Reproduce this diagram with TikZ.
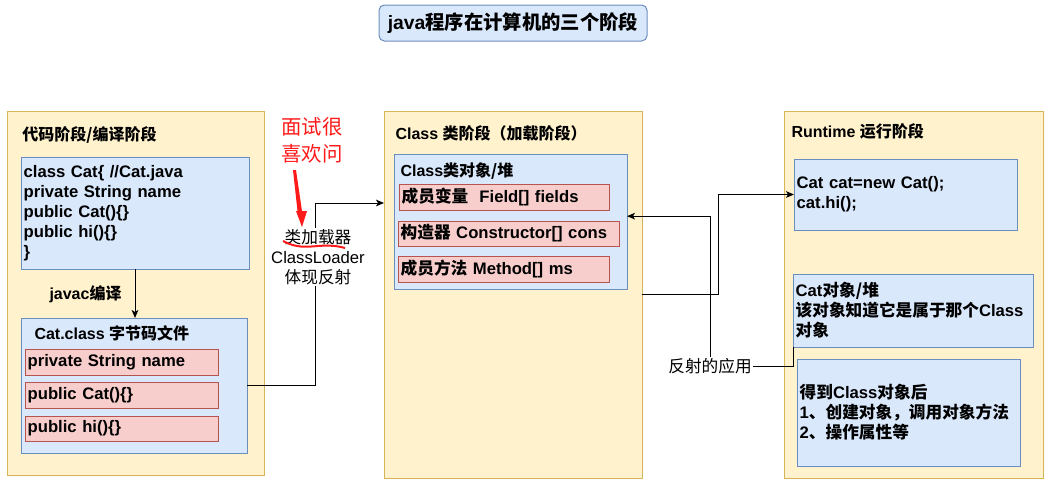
\documentclass[tikz,border=0pt]{standalone}
\usepackage{fontspec}
\setmainfont{Liberation Sans}
\newfontfamily\cjk{Noto Sans CJK SC}
\usetikzlibrary{arrows.meta}
\newcommand{\zh}[1]{{\cjk #1}}
\definecolor{stagefill}{HTML}{FFF2CC}
\definecolor{stagedraw}{HTML}{D6B656}
\definecolor{bluefill}{HTML}{DAE8FC}
\definecolor{bluedraw}{HTML}{6C8EBF}
\definecolor{pinkfill}{HTML}{F8CECC}
\definecolor{pinkdraw}{HTML}{B85450}
\definecolor{notered}{HTML}{FF1A1A}
\tikzset{every picture/.style={line width=0.75pt},
  stage/.style={draw=stagedraw, fill=stagefill, anchor=north west, inner sep=0pt, outer sep=0pt},
  bluebox/.style={draw=bluedraw, fill=bluefill, anchor=north west, inner xsep=2pt, inner ysep=0pt, outer sep=0pt, align=left, font=\bfseries\fontsize{12.5}{15}\selectfont},
  pinkbox/.style={bluebox, draw=pinkdraw, fill=pinkfill},
  heading/.style={anchor=west, inner sep=0pt, font=\bfseries\fontsize{12}{14}\selectfont},
  plain/.style={inner sep=0pt, outer sep=1pt, align=center, font=\fontsize{12.5}{15}\selectfont},
  conn/.style={-{Stealth[length=6pt,width=5pt,inset=1.5pt]}},
}
\begin{document}
\begin{tikzpicture}[x=0.75pt,y=0.75pt,yscale=-1,xscale=1]
	\useasboundingbox (0,0) rectangle (1051,487);
	%Title
	\node [draw=bluedraw, fill=bluefill, rounded corners=4pt, minimum width=201pt, minimum height=27pt, font=\bfseries\fontsize{14.5}{17}\selectfont] (title) at (513,23) {java\zh{程序在计算机的三个阶段}};
	%Code stage
	\node [stage, minimum width=192.75pt, minimum height=273pt] (codestage) at (7,111) {};
	\node [heading] (codehead) at (22,135) {\zh{代码阶段/编译阶段}};
	\node [bluebox, text width=167pt, minimum height=84pt] (code) at (21,157) {class Cat\{ //Cat.java\\private String name\\public Cat()\{\}\\public hi()\{\}\\\}};
	\node [bluebox, minimum width=169.5pt, minimum height=101.25pt] (catcls) at (21,318) {};
	\node [heading] (catclshead) at (34,333) {Cat.class \zh{字节码文件}};
	\node [pinkbox, text width=140.75pt, minimum height=19.5pt] (bytename) at (25,349) {private String name};
	\node [pinkbox, text width=140.75pt, minimum height=19.5pt] (bytecat) at (25,382) {public Cat()\{\}};
	\node [pinkbox, text width=140.75pt, minimum height=18.75pt] (bytehi) at (25,416) {public hi()\{\}};
	\node [heading] (javac) at (49,294) {javac\zh{编译}};
	\draw [conn] (code.south) -- (code.south |- catcls.north);
	%Class stage
	\node [stage, minimum width=193.5pt, minimum height=275.25pt] (clsstage) at (384,111) {};
	\node [heading] (clshead) at (395,133) {Class \zh{类阶段（加载阶段）}};
	\node [bluebox, minimum width=174.75pt, minimum height=101.25pt] (clsobj) at (394,154) {};
	\node [heading] (clsobjhead) at (400,171) {Class\zh{类对象/堆}};
	\node [pinkbox, text width=153.5pt, minimum height=19.5pt] (fields) at (399,184) {\zh{成员变量}\ \ Field[] fields};
	\node [pinkbox, text width=161.75pt, minimum height=18.75pt] (cons) at (398,221) {\zh{构造器} Constructor[] cons};
	\node [pinkbox, text width=154.25pt, minimum height=19.5pt] (methods) at (398,256) {\zh{成员方法} Method[] ms};
	%Runtime stage
	\node [stage, minimum width=194.25pt, minimum height=275.25pt] (runstage) at (784,111) {};
	\node [heading] (runhead) at (791,131) {Runtime \zh{运行阶段}};
	\node [bluebox, text width=163.25pt, minimum height=53.25pt] (newcat) at (794,159) {Cat cat=new Cat();\\cat.hi();};
	\node [bluebox, text width=176pt, minimum height=54.75pt] (catobj) at (793,274) {Cat\zh{对象/堆}\\\zh{该对象知道它是属于那个}Class\\\zh{对象}};
	\node [bluebox, text width=163.25pt, minimum height=80.25pt] (uses) at (797,359) {\zh{得到}Class\zh{对象后}\\1\zh{、创建对象，调用对象方法}\\2\zh{、操作属性等}};
	%Loader
	\node [plain] (loader) at (318,257) {\zh{类加载器}\\ClassLoader\\\zh{体现反射}};
	\draw (catcls.east) -| ([xshift=-2.25pt]loader.south);
	\draw [conn] ([xshift=-2.25pt]loader.north) |- ([yshift=69pt]clsstage.north west);
	\draw [conn] (clsstage.east) -- ++(76,0) |- (newcat.west);
	%Reflection
	\node [plain] (reflect) at (710,366) {\zh{反射的应用}};
	\draw [conn] (reflect.north) |- ([yshift=-4pt]clsobj.east);
	\draw (reflect.east) -| (catobj.south west);
	%Note
	\node [inner sep=0pt, align=center, text=notered, font=\cjk\fontsize{15.3}{20}\selectfont] (ask) at (312,140) {面试很\\喜欢问};
	\fill [notered] (293,170) -- (296,170) -- (302,211) -- (307,211) -- (302,227) -- (296,211) -- (297.5,211) -- cycle;
	\draw [notered, line width=1.5pt] (283,241) .. controls (296,248) and (306,247) .. (318,246) .. controls (330,245) and (338,246) .. (345,248);
\end{tikzpicture}
\end{document}
